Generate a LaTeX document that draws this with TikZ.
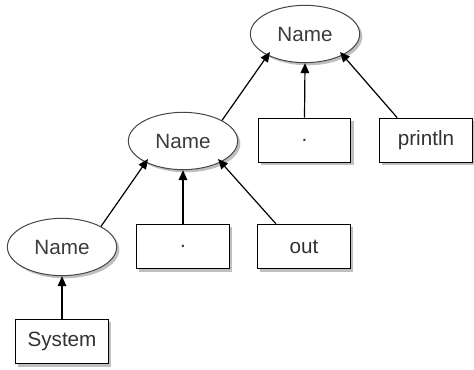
\documentclass[tikz,border=0pt]{standalone}
\usepackage{fontspec}
\setmainfont{Liberation Sans}
\usetikzlibrary{shapes.geometric,arrows.meta,shadows}

\tikzset{every picture/.style={line width=0.75pt}}
\tikzset{
  namenode/.style={ellipse, draw={rgb,255:red,70;green,70;blue,70}, fill=white, minimum width=82pt, minimum height=43pt, inner sep=0pt, text={rgb,255:red,60;green,60;blue,60}, font=\fontsize{15.5}{18}\selectfont, drop shadow={shadow xshift=2pt, shadow yshift=-2pt, opacity=0.5}},
  tokbox/.style={rectangle, draw=black, fill=white, minimum width=69.5pt, minimum height=33.5pt, inner sep=0pt, text={rgb,255:red,50;green,50;blue,50}, font=\fontsize{15.5}{18}\selectfont, drop shadow={shadow xshift=2pt, shadow yshift=-2pt, opacity=0.5}},
  uparrow/.style={-{Triangle[length=7.5pt,width=6.5pt]}, line width=0.9pt}
}

\begin{document}
\begin{tikzpicture}[x=0.75pt,y=0.75pt,yscale=-1,xscale=1]
%set diagram size
\path (0,0) rectangle (474,370);

%Shape: Ellipse [id:top]
\node [namenode] (top) at (305,34) {Name};
%Shape: Ellipse [id:mid]
\node [namenode] (mid) at (183,141) {Name};
%Shape: Ellipse [id:low]
\node [namenode] (low) at (62,247) {Name};

%Shape: Rectangle [id:dotA]
\node [tokbox] (dotA) at (304.5,140.5) {.};
%Shape: Rectangle [id:printlnbox]
\node [tokbox] (printlnbox) at (426,140.5) {println};
%Shape: Rectangle [id:dotB]
\node [tokbox] (dotB) at (183,246.5) {.};
%Shape: Rectangle [id:outbox]
\node [tokbox] (outbox) at (304,246.5) {out};
%Shape: Rectangle [id:systembox]
\node [tokbox] (systembox) at (62,341.5) {System};

%Straight Lines
\draw [uparrow] (mid.north east) -- ([xshift=3pt,yshift=-2pt]top.south west) ;
\draw [uparrow] (dotA.north) -- (top.south) ;
\draw [uparrow] ([xshift=13.5pt]printlnbox.north west) -- ([xshift=-3pt,yshift=-2pt]top.south east) ;
\draw [uparrow] (low.north east) -- ([xshift=3pt,yshift=-2pt]mid.south west) ;
\draw [uparrow] (dotB.north) -- (mid.south) ;
\draw [uparrow] ([xshift=14pt]outbox.north west) -- ([xshift=-3pt,yshift=-2pt]mid.south east) ;
\draw [uparrow] (systembox.north) -- (low.south) ;

\end{tikzpicture}
\end{document}
